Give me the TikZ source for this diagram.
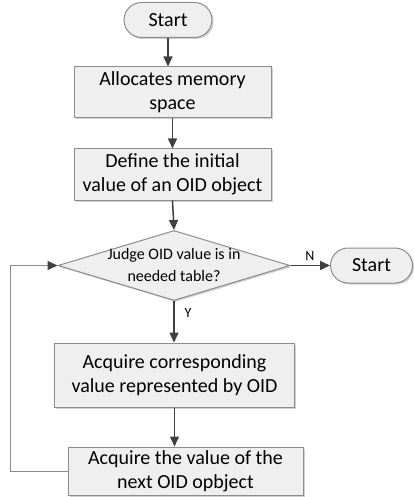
\documentclass[tikz,border=0pt]{standalone}
\usepackage{fontspec}
\setmainfont{Carlito}
\usetikzlibrary{arrows.meta, positioning, shapes.geometric, shadows}

\definecolor{boxfill}{HTML}{EFEFEF}
\definecolor{boxline}{HTML}{8C8C8C}
\definecolor{flowline}{HTML}{404040}

\begin{document}
\begin{tikzpicture}[x=1pt, y=-1pt]
\tikzset{
  boxshadow/.style={drop shadow={shadow xshift=1.5pt, shadow yshift=-1.5pt, fill=black!18, opacity=1}},
  process/.style={rectangle, draw=boxline, fill=boxfill, line width=1pt, boxshadow,
    align=center, inner sep=0pt, font=\fontsize{20}{24}\selectfont},
  terminal/.style={process, rounded corners=17.5pt, minimum height=35pt},
  decision/.style={diamond, draw=boxline, fill=boxfill, line width=1pt, boxshadow,
    inner sep=0pt, minimum width=232pt, minimum height=70pt},
  dtext/.style={align=center, inner sep=0pt, font=\fontsize{16}{22}\selectfont},
  flow/.style={draw=flowline, line width=1.5pt, -{Triangle[length=10pt, width=9pt]}},
  loopback/.style={draw=boxline, line width=1pt, -{Triangle[length=10pt, width=9pt, color=flowline]}},
  branch/.style={inner sep=0pt, font=\fontsize{14}{16}\selectfont}
}
\useasboundingbox (0,0) rectangle (413,497);

% main column
\node[terminal, minimum width=88pt] (start) at (168,20) {Start};
\node[process, minimum width=197pt, minimum height=51pt] (alloc) at (172.5,92.5) {Allocates memory\\space};
\node[process, minimum width=197pt, minimum height=51pt] (define) at (172.5,174.5) {Define the initial\\value of an OID object};
\node[decision] (judge) at (174,265.5) {};
\node[dtext] (judgetext) at (judge) {Judge OID value is in\\needed table?};
\node[process, minimum width=240pt, minimum height=64pt] (acquire) at (174.5,375) {Acquire corresponding\\value represented by OID};
\node[process, minimum width=235pt, minimum height=48pt] (next) at (185.5,471) {Acquire the value of the\\next OID opbject};

% exit on the right
\node[terminal, minimum width=82pt] (stop) at (371.5,265.5) {Start};

\coordinate (loopcorner) at (10,471);

\draw[flow] (start.south) -- (start.south |- alloc.north);
\draw[flow] (alloc) -- (define);
\draw[flow] (define.south) -- (judge.north);
\draw[flow] (judge.south) -- (judge.south |- acquire.north);
\draw[flow] (acquire.south) -- (acquire.south |- next.north);
\draw[flow] (judge.east) -- (stop.west);
\draw[loopback] (next.west) -- (loopcorner) |- (judge.west);

\node[branch] (nolabel) at (310,256) {N};
\node[branch] (yeslabel) at (188,313) {Y};
\end{tikzpicture}
\end{document}
